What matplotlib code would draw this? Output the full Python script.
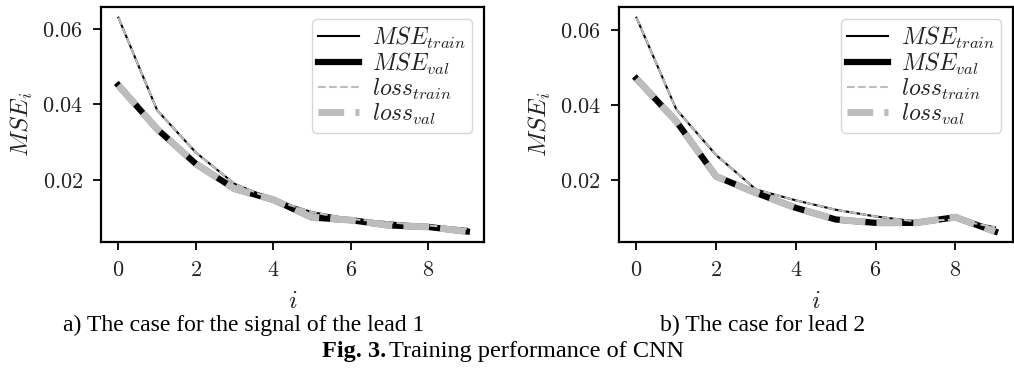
import numpy as np
import matplotlib
matplotlib.use("Agg")
import matplotlib.pyplot as plt

plt.rcParams['mathtext.fontset'] = 'cm'

epochs = np.arange(10)

# lead 1
mse_train_1 = [0.0629, 0.0384, 0.0272, 0.0189, 0.0147, 0.0114, 0.0096, 0.0087, 0.0079, 0.0070]
mse_val_1 = [0.0450, 0.0334, 0.0242, 0.0176, 0.0147, 0.0100, 0.0093, 0.0079, 0.0075, 0.0063]
loss_train_1 = [0.0629, 0.0384, 0.0272, 0.0189, 0.0147, 0.0114, 0.0096, 0.0087, 0.0079, 0.0070]
loss_val_1 = [0.0450, 0.0334, 0.0242, 0.0176, 0.0147, 0.0100, 0.0093, 0.0079, 0.0075, 0.0063]

# lead 2
mse_train_2 = [0.0634, 0.0389, 0.0267, 0.0175, 0.0146, 0.0121, 0.0103, 0.0090, 0.0095, 0.0074]
mse_val_2 = [0.0471, 0.0357, 0.0210, 0.0166, 0.0126, 0.0095, 0.0086, 0.0086, 0.0101, 0.0063]
loss_train_2 = [0.0634, 0.0389, 0.0267, 0.0175, 0.0146, 0.0121, 0.0103, 0.0090, 0.0095, 0.0074]
loss_val_2 = [0.0471, 0.0357, 0.0210, 0.0166, 0.0126, 0.0095, 0.0086, 0.0086, 0.0101, 0.0063]

yticks = [0.02, 0.04, 0.06]
ytick_labels = ['$0.02$', '$0.04$', '$0.06$']
xticks = [0, 2, 4, 6, 8]
xtick_labels = ['$0$', '$2$', '$4$', '$6$', '$8$']
gray = '#bdbdbd'
txt = '#222222'


def draw(ax, mt, mv, lt, lv):
    ax.plot(epochs, mt, color='black', lw=1.5, label='$MSE_{train}$')
    ax.plot(epochs, mv, color='black', lw=4.5, label='$MSE_{val}$')
    ax.plot(epochs, lt, color=gray, lw=1.5, ls='--', label='$loss_{train}$')
    ax.plot(epochs, lv, color=gray, lw=5.0, ls='--', label='$loss_{val}$')
    ax.set_xticks(xticks)
    ax.set_xticklabels(xtick_labels)
    ax.set_yticks(yticks)
    ax.set_yticklabels(ytick_labels)
    ax.tick_params(labelsize=16, width=1.3, length=6, pad=7, direction='out', labelcolor=txt)
    for s in ax.spines.values():
        s.set_linewidth(1.6)
    ax.set_xlabel('$i$', fontsize=18, labelpad=6, color=txt)
    ax.set_ylabel('$MSE_i$', fontsize=18, labelpad=5, color=txt)
    leg = ax.legend(loc='upper right', fontsize=17, handlelength=1.75, handletextpad=0.55,
                    borderpad=0.25, labelspacing=0.0, fancybox=True, framealpha=0.8)
    leg.get_frame().set_edgecolor('#cccccc')
    for t in leg.get_texts():
        t.set_color(txt)


fig = plt.figure(figsize=(10.14, 3.68), dpi=100)
ax1 = fig.add_axes([0.0996, 0.342, 0.378, 0.639])
ax2 = fig.add_axes([0.610, 0.342, 0.389, 0.639])
draw(ax1, mse_train_1, mse_val_1, loss_train_1, loss_val_1)
draw(ax2, mse_train_2, mse_val_2, loss_train_2, loss_val_2)

fig.text(0.240, 0.115, 'a) The case for the signal of the lead 1', ha='center', va='center',
         fontsize=17, family='Liberation Serif')
fig.text(0.752, 0.115, 'b) The case for lead 2', ha='center', va='center',
         fontsize=17, family='Liberation Serif')
fig.text(0.318, 0.046, 'Fig. 3.', ha='left', va='center', fontsize=17.5,
         family='Liberation Serif', weight='bold')
fig.text(0.384, 0.046, 'Training performance of CNN', ha='left', va='center', fontsize=17.5,
         family='Liberation Serif')

fig.savefig('out.png', dpi=100)
